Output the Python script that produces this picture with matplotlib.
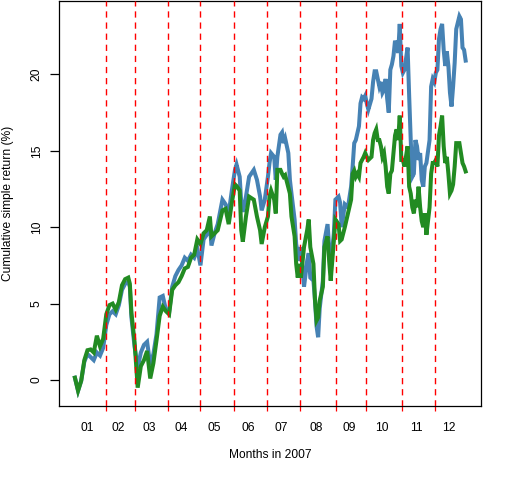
import matplotlib
matplotlib.use("Agg")
import matplotlib.pyplot as plt

# trading days per month in 2007
month_days = [20, 19, 21, 20, 22, 21, 21, 23, 19, 23, 21, 20]
month_labels = ['01', '02', '03', '04', '05', '06', '07', '08', '09', '10', '11', '12']

# trading-day index of each reading (one row per month, roughly)
day = [0, 2, 4, 6, 8, 10, 12, 14, 16, 18,
       20, 22, 24, 26, 28, 30, 32, 34, 35, 36, 38,
       40, 42, 44, 46, 48, 50, 52, 54, 56, 58,
       60, 62, 64, 66, 68, 70, 72, 74, 76, 78,
       80, 82, 84, 86, 87, 89, 91, 94, 96, 98, 100,
       102, 103, 105, 106, 107, 109, 111, 114, 116, 118, 119, 121,
       123, 124, 125, 127, 128, 129, 131, 132, 133, 134, 136, 137, 138, 140, 141, 142, 143,
       144, 146, 148, 149, 150, 152, 153, 154, 155, 156, 158, 159, 161, 162, 163, 165, 166,
       168, 169, 170, 172, 174, 176, 177, 178, 179, 180, 181, 182, 183, 184, 185,
       186, 187, 189, 190, 191, 192, 193, 194, 195, 196, 197, 198, 199, 200, 201, 202, 203,
       204, 205, 206, 207, 208, 209,
       210, 212, 213, 214, 215, 216, 217, 218, 219, 220, 221, 222, 223, 224, 226, 227, 228, 229,
       230, 231, 232, 233, 234, 235, 236, 237, 238, 239, 240, 241, 242, 243, 245, 246, 247, 248, 249]

# cumulative simple return (%), first series (steelblue)
blue = [0.15, -0.7, -0.05, 1.2, 1.7, 1.5, 1.3, 1.8, 1.6, 2.1,
        3.6, 4.3, 4.5, 4.3, 4.9, 5.9, 6.3, 6.4, 6.1, 4.1, 2.2,
        0.8, 1.8, 2.3, 2.5, 1.0, 1.7, 3.0, 5.4, 5.5, 4.6,
        4.4, 6.1, 6.8, 7.2, 7.5, 8.0, 7.8, 8.2, 8.0, 8.6,
        7.5, 9.2, 9.5, 10.2, 8.8, 9.6, 10.2, 11.8, 11.5, 10.9, 12.4,
        13.75, 14.1, 13.3, 11.6, 11.0, 12.0, 13.3, 13.75, 13.1, 12.0, 11.1, 11.8,
        13.3, 14.2, 14.85, 14.6, 13.1, 14.6, 16.05, 16.2, 15.5, 15.8, 14.85, 13.1, 12.2, 10.5, 8.9, 8.3, 7.8,
        8.7, 6.1, 7.8, 8.3, 6.7, 6.5, 5.2, 3.5, 2.8, 4.7, 6.5, 9.1, 10.2, 8.7, 7.4, 9.6, 11.8,
        12.0, 11.6, 10.0, 11.5, 11.3, 12.65, 14.0, 15.5, 15.7, 16.15, 16.6, 18.1, 18.5, 18.4, 18.6,
        18.1, 17.7, 18.4, 19.5, 20.2, 20.2, 19.7, 19.2, 19.5, 18.8, 19.0, 19.7, 18.4, 17.5, 20.3, 20.65, 21.2,
        22.2, 21.9, 21.4, 23.3, 20.55, 20.1,
        20.3, 21.75, 18.6, 15.7, 13.3, 13.5, 15.7, 15.3, 14.4, 14.85, 13.1, 12.65, 13.97, 14.2, 15.7, 19.2, 19.7, 19.5,
        20.1, 20.3, 22.3, 22.96, 23.3, 21.6, 20.55, 21.5, 20.55, 18.8, 17.9, 19.2, 20.75, 22.96, 23.8, 23.6, 21.75, 21.6, 20.9]

# cumulative simple return (%), second series (forestgreen)
green = [0.15, -0.7, -0.05, 1.3, 1.95, 2.0, 1.8, 2.9, 2.2, 2.7,
         4.3, 4.9, 5.0, 4.6, 5.1, 6.2, 6.6, 6.7, 6.3, 4.4, 2.5,
         -0.5, 0.9, 1.3, 1.9, 0.1, 1.1, 2.6, 4.2, 4.8, 4.5,
         4.3, 5.9, 6.2, 6.4, 6.8, 7.3, 7.4, 8.0, 8.2, 9.2,
         8.9, 9.6, 9.8, 10.7, 9.4, 9.6, 9.8, 11.1, 11.2, 10.2, 11.6,
         12.8, 12.7, 12.4, 9.8, 9.05, 10.7, 12.0, 11.8, 10.7, 9.8, 8.9, 10.0,
         10.7, 12.0, 12.4, 11.8, 10.9, 13.75, 13.75, 13.5, 13.3, 13.4, 12.6, 12.2, 10.7, 9.4, 7.6, 6.7, 7.6,
         6.7, 8.7, 9.8, 10.5, 8.7, 7.6, 5.2, 3.9, 4.1, 5.2, 6.1, 8.7, 9.4, 7.8, 6.5, 9.1, 10.5,
         10.2, 9.1, 9.2, 10.0, 10.9, 11.8, 13.5, 13.7, 13.3, 13.5, 13.3, 14.2, 14.4, 14.6, 14.85,
         14.6, 14.4, 14.6, 15.7, 16.15, 16.4, 15.7, 15.7, 15.3, 14.6, 14.85, 13.97, 12.65, 12.2, 13.5, 13.7, 14.85,
         16.0, 16.4, 15.7, 17.3, 14.4, 14.4,
         13.97, 15.3, 12.65, 12.2, 11.3, 10.9, 11.8, 11.3, 12.65, 11.3, 10.4, 10.0, 10.9, 9.5, 11.3, 13.5, 14.2, 14.2,
         14.4, 13.97, 16.0, 16.6, 17.3, 15.3, 14.2, 14.6, 13.5, 12.2, 12.4, 12.8, 13.97, 15.5, 15.5, 14.85, 14.2, 13.97, 13.65]

plt.rcParams['font.family'] = ['Liberation Sans', 'DejaVu Sans']
plt.rcParams['font.size'] = 8.64


def month_edges(counts):
    edges = []
    total = 0
    for c in counts[:-1]:
        total += c
        edges.append(total - 0.5)
    return edges


def month_centers(counts):
    centers = []
    start = 0
    for c in counts:
        centers.append(start + (c - 1) / 2.0 - 1.5)
        start += c
    return centers


def main():
    fig = plt.figure(figsize=(5.12, 4.8), dpi=100)
    ax = fig.add_axes([0.1158, 0.1548, 0.8242, 0.8425])

    ax.plot(day, blue, color='steelblue', lw=2.9, solid_joinstyle='miter', zorder=2)
    ax.plot(day, green, color='forestgreen', lw=2.9, solid_joinstyle='miter', zorder=3)

    edges = month_edges(month_days)
    for e in edges:
        ax.axvline(e, color='red', lw=1.0, ls=(0, (4.5, 3.5)), zorder=4)

    n = sum(month_days) - 1
    ax.set_xlim(-0.04 * n, n * 1.04)
    lo, hi = min(min(blue), min(green)), max(max(blue), max(green))
    pad = 0.04 * (hi - lo)
    ax.set_ylim(lo - pad, hi + pad)

    ax.set_xticks(month_centers(month_days))
    ax.set_xticklabels(month_labels)
    ax.set_xticks(edges, minor=True)
    ax.tick_params(axis='x', which='major', length=0, pad=12)
    ax.tick_params(axis='x', which='minor', length=3.6, width=0.9, color='red')

    ax.set_yticks([0, 5, 10, 15, 20])
    ax.tick_params(axis='y', length=6.5, width=0.9, pad=5.5, labelrotation=90)
    for lab in ax.get_yticklabels():
        lab.set_va('center')

    for s in ax.spines.values():
        s.set_linewidth(0.9)

    ax.set_xlabel('Months in 2007', labelpad=10.5)
    ax.set_ylabel('Cumulative simple return (%)', labelpad=12)

    fig.savefig('out.png', dpi=100)


if __name__ == "__main__":
    main()
